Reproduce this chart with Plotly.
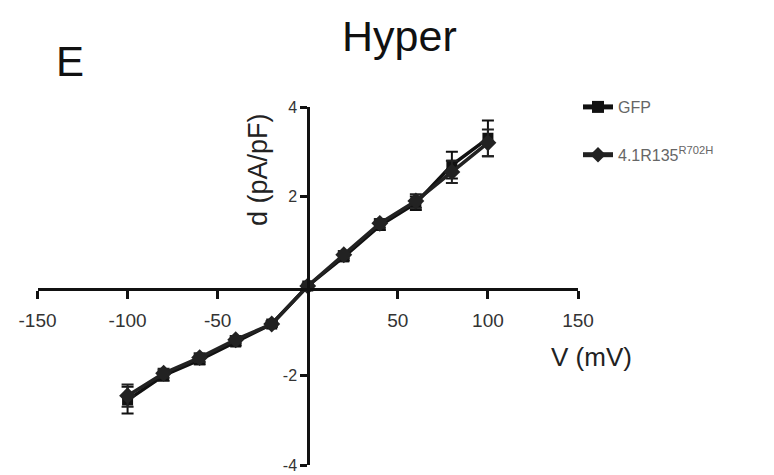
import plotly.graph_objects as go

voltages = [-100, -80, -60, -40, -20, 0, 20, 40, 60, 80, 100]
gfp = [-2.55, -2.0, -1.65, -1.25, -0.85, 0.0, 0.65, 1.35, 1.85, 2.7, 3.3]
gfp_err = [0.3, 0.12, 0.1, 0.08, 0.06, 0.05, 0.08, 0.1, 0.15, 0.3, 0.4]
r135 = [-2.45, -1.95, -1.6, -1.2, -0.85, 0.0, 0.7, 1.4, 1.9, 2.55, 3.2]
r135_err = [0.25, 0.1, 0.1, 0.08, 0.06, 0.05, 0.08, 0.1, 0.15, 0.25, 0.3]
x_ticks = [-150, -100, -50, 50, 100, 150]
x_labels = ["-150", "-100", "-50", "50", "100", "150"]
y_ticks = [-4, -2, 2, 4]
y_labels = ["-4", "-2", "2", "4"]

W, H = 774, 475
fig = go.Figure()
fig.add_trace(go.Scatter(
    x=voltages, y=gfp, name="GFP", mode="lines+markers",
    line=dict(color="#111", width=3.5),
    marker=dict(symbol="square", size=11, color="#111"),
    error_y=dict(type="data", array=gfp_err, color="#111", thickness=2, width=6),
    legendgroup="a",
))
fig.add_trace(go.Scatter(
    x=voltages, y=r135, name="4.1R135<sup>R702H</sup>", mode="lines+markers",
    line=dict(color="#222", width=3.5),
    marker=dict(symbol="diamond", size=13, color="#222"),
    error_y=dict(type="data", array=r135_err, color="#222", thickness=2, width=6),
    legendgroup="b",
))

fig.update_layout(
    width=W, height=H, margin=dict(l=0, r=0, t=0, b=0, autoexpand=False),
    plot_bgcolor="white", paper_bgcolor="white",
    font=dict(family="Liberation Sans, Arial", color="#222"),
    xaxis=dict(domain=[37.5 / W, 578 / W], range=[-150, 150], anchor="free",
               position=(H - 289) / H, showline=True, linecolor="#111", linewidth=2.5,
               ticks="outside", ticklen=8, tickwidth=2.5, tickcolor="#111",
               tickvals=x_ticks, ticktext=x_labels, showgrid=False, zeroline=False,
               automargin=False, ticklabeloverflow="allow", ticklabelstandoff=5,
               tickfont=dict(size=19, color="#333")),
    yaxis=dict(domain=[(H - 465) / H, (H - 107) / H], range=[-4, 4], anchor="free",
               position=308 / W, showline=True, linecolor="#111", linewidth=2.5,
               ticks="outside", ticklen=7, tickwidth=2.5, tickcolor="#111",
               tickvals=y_ticks, ticktext=y_labels, showgrid=False, zeroline=False,
               automargin=False, ticklabeloverflow="allow",
               tickfont=dict(size=16, color="#333")),
    legend=dict(x=578 / W, y=1 - 90 / H, xanchor="left", yanchor="top",
                font=dict(size=16, color="#666"), tracegroupgap=24,
                itemwidth=30, itemsizing="constant", bgcolor="rgba(0,0,0,0)"),
    showlegend=True,
    annotations=[
        dict(text="Hyper", x=400 / W, y=1 - 36 / H, xref="paper", yref="paper",
             xanchor="center", yanchor="middle",
             showarrow=False, font=dict(size=43, color="#111")),
        dict(text="E", x=70 / W, y=1 - 61 / H, xref="paper", yref="paper",
             xanchor="center", yanchor="middle",
             showarrow=False, font=dict(size=42, color="#111")),
        dict(text="V (mV)", x=591 / W, y=1 - 357 / H, xref="paper", yref="paper",
             xanchor="center", yanchor="middle",
             showarrow=False, font=dict(size=26, color="#222")),
        dict(text="d (pA/pF)", x=258 / W, y=1 - 170 / H, xref="paper", yref="paper",
             xanchor="center", yanchor="middle",
             showarrow=False, textangle=-90, font=dict(size=27, color="#222")),
    ],
)
fig.write_html("out.html")
